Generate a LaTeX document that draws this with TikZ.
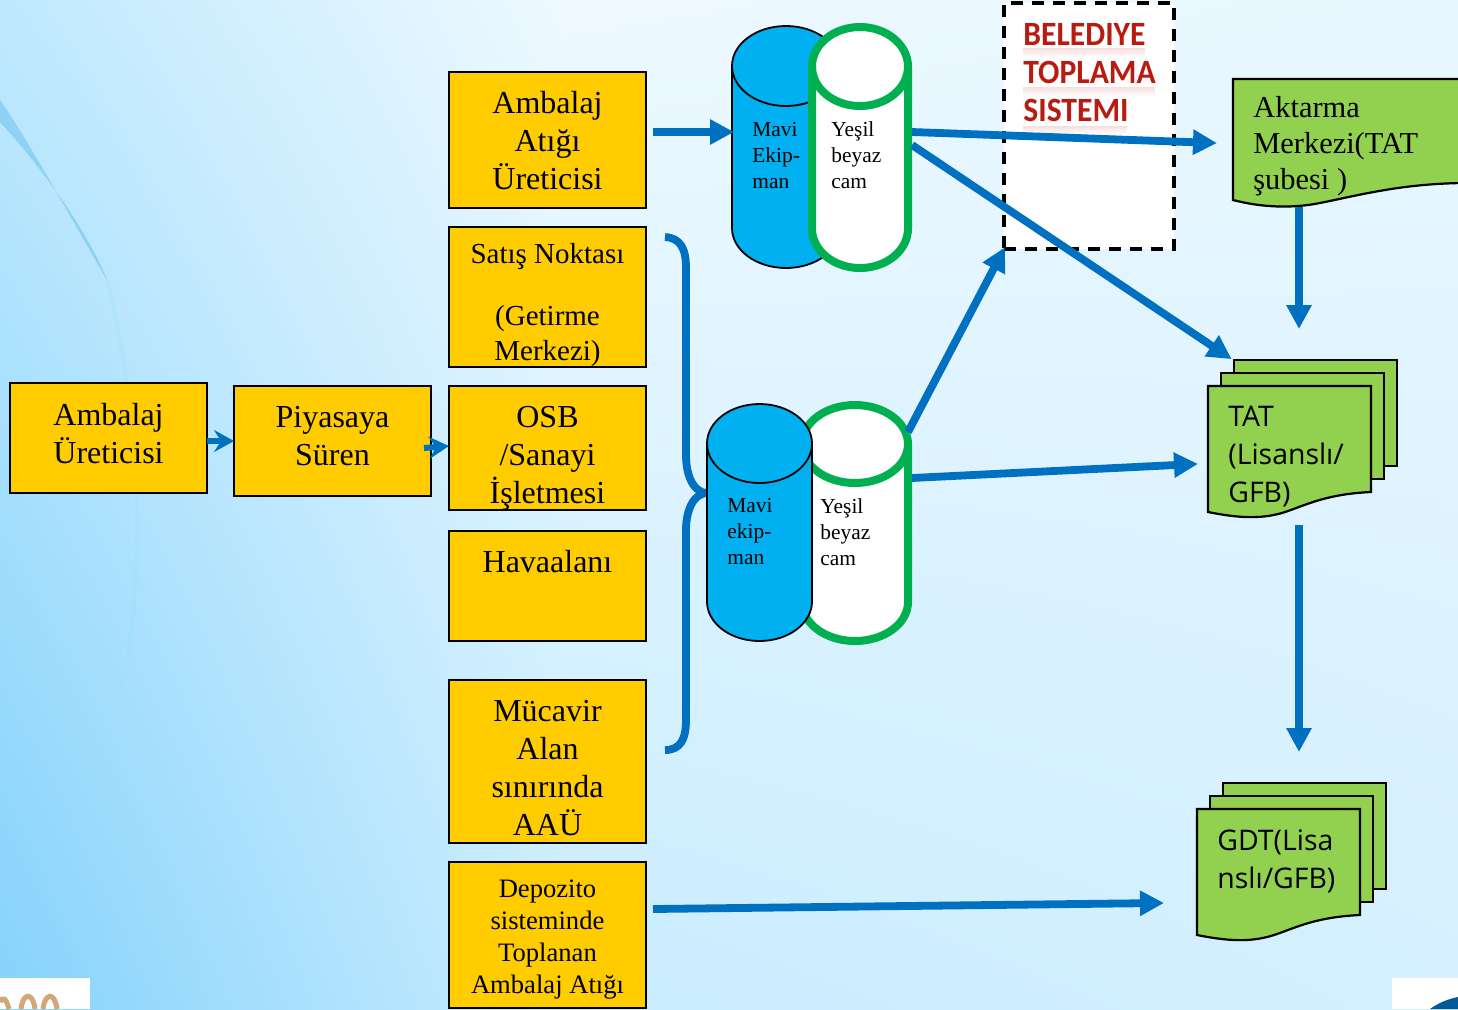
\documentclass[tikz,border=0pt]{standalone}
\usepackage{fontspec}
\setmainfont{Liberation Serif}
\newfontfamily\segoefont{Open Sans}
\newfontfamily\calibfont[FakeStretch=.93]{Carlito}
\usetikzlibrary{arrows.meta,shadings}
\definecolor{box_yellow_col}{HTML}{FFCC00}
\definecolor{doc_green_col}{HTML}{92D050}
\definecolor{ring_green_col}{HTML}{00B050}
\definecolor{tank_blue_col}{HTML}{00B0F0}
\definecolor{arrow_blue_col}{HTML}{0070C0}
\definecolor{title_red_col}{HTML}{B81C10}
\definecolor{sky_a}{HTML}{BFE9FE}
\definecolor{sky_b}{HTML}{EEF9FF}
\definecolor{sky_c}{HTML}{85D2FB}
\definecolor{sky_d}{HTML}{C8ECFF}
\definecolor{sky_e}{HTML}{E8F7FF}
\definecolor{sky_f}{HTML}{D5F0FF}
\begin{document}
\begin{tikzpicture}[
  x=.5pt, y=-.5pt,
  box_yellow/.style={rectangle, draw=black, line width=1.2pt, outer sep=0pt, fill=box_yellow_col, anchor=north west, minimum width=98.5pt, inner sep=0pt, align=center, font=\fontsize{16}{19}\selectfont},
  box_small/.style={box_yellow, font=\fontsize{13.3}{16}\selectfont},
  tank_blue/.style={draw=black, line width=.9pt, fill=tank_blue_col},
  tank_green/.style={draw=ring_green_col, line width=4pt, fill=white},
  tank_text/.style={anchor=west, align=left, inner sep=0pt, font=\fontsize{10.7}{13}\selectfont},
  doc_text/.style={anchor=west, align=left, inner sep=0pt, font=\fontsize{15.2}{18}\selectfont},
  doc_sans/.style={anchor=west, align=left, inner sep=0pt, font=\segoefont\fontsize{14.2}{19}\selectfont},
  title_text/.style={anchor=west, inner sep=0pt, text=title_red_col, font=\calibfont\bfseries\fontsize{17}{19}\selectfont},
  doc_line/.style={draw=black, line width=1.1pt, fill=doc_green_col},
  flow/.style={draw=arrow_blue_col, line width=3.9pt, shorten >=-1pt, -{Triangle[length=12pt,width=12pt]}},
  flow_small/.style={draw=arrow_blue_col, line width=3pt, -{Stealth[length=10pt,width=11pt,inset=3.5pt]}},
  doc_stack/.pic={
    \foreach \d in {26,13} \draw[doc_line] (\d,-\d) rectangle (\d+163,-\d+106);
    \draw[doc_line] (0,0) -- (163,0) -- (163,106) .. controls (120,108) and (100,118) .. (80,125) .. controls (55,134) and (30,132) .. (0,126) -- cycle;
  },
  pics/tank/.style args={#1/#2/#3}{code={
    \path[pic actions] (-#1,#2) arc [start angle=180, end angle=360, x radius=#1, y radius=#2] -- (#1,#3-#2) arc [start angle=0, end angle=180, x radius=#1, y radius=#2] -- cycle;
    \path[pic actions, fill=none] (-#1,#2) arc [start angle=180, end angle=0, x radius=#1, y radius=#2];
    \coordinate (-west) at (-#1,#3/2);
  }},
]
\useasboundingbox (0,0) rectangle (1458,1009);
\clip (0,0) rectangle (1458,1009);
\shade[upper left=sky_a, upper right=sky_b, lower left=sky_c, lower right=sky_d] (0,0) rectangle (560,1009);
\shade[upper left=sky_b, upper right=sky_e, lower left=sky_d, lower right=sky_f] (559,0) rectangle (1458,1009);
\fill[arrow_blue_col!45!tank_blue_col!55!white, opacity=.6] (0,100) .. controls (25,135) and (75,225) .. (108,282) .. controls (85,225) and (35,160) .. (0,122) -- cycle;
\draw[white!60!tank_blue_col, opacity=.25, line width=2pt] (108,282) .. controls (145,440) and (145,600) .. (118,700);

% corner pieces
\fill[white] (0,978) rectangle (90,1009);
\fill[white] (1392,978) rectangle (1458,1009);
\draw[brown!70!white, line width=2.5pt] (0,1002) .. controls (3,996) and (6,998) .. (9,1009) (21,1009) .. controls (23,992) and (33,992) .. (35,1009) (43,1009) .. controls (45,992) and (55,992) .. (57,1009);
\fill[arrow_blue_col!80!black] (1430,1009) .. controls (1438,1003) and (1448,999) .. (1458,997) -- (1458,1009) -- cycle;

% left side
\draw (10,383) node (uretici) [box_yellow, minimum height=55pt] {Ambalaj\\Üreticisi\\[-14pt]~};
\draw (234,386) node (piyasa) [box_yellow, minimum height=55pt] {Piyasaya\\Süren\\[-14pt]~};

% middle column
\draw (449,72) node (atik) [box_yellow, minimum height=68pt] {\rule{0pt}{12pt}Ambalaj\\Atığı\\Üreticisi};
\draw (449,227) node (satis) [box_yellow, minimum height=70pt, font=\fontsize{14.5}{17.5}\selectfont] {\rule{0pt}{18pt}Satış Noktası\\[13.5pt](Getirme\\Merkezi)};
\draw (449,386) node (osb) [box_yellow, minimum height=62pt] {\rule{0pt}{20.5pt}OSB\\/Sanayi\\İşletmesi};
\draw (449,531) node (hava) [box_yellow, minimum height=55pt] {Havaalanı\\[6pt]~};
\draw (449,680) node (mucavir) [box_yellow, minimum height=81.5pt] {\rule{0pt}{17pt}Mücavir\\Alan\\sınırında\\AAÜ};
\draw (449,862) node (depozito) [box_small, minimum height=73pt] {\rule{0pt}{13.5pt}Depozito\\sisteminde\\Toplanan\\Ambalaj Atığı};

\draw (1004,3) node (belediye) [rectangle, draw=black, line width=1.6pt, outer sep=0pt, dash pattern=on 6pt off 4.5pt, fill=white, anchor=north west, minimum width=85pt, minimum height=123pt] {};
\foreach \a/\b/\c in {48/1145/57, 87/1155/96, 126/1127/134}
  \shade[top color=title_red_col!14!white, bottom color=white] (1023,\a) rectangle (\b,\c);
\draw (1023,34) node (t1) [title_text] {BELEDIYE};
\draw (1023,72) node (t2) [title_text] {TOPLAMA};
\draw (1023,110) node (t3) [title_text] {SISTEMI};

% brace
\coordinate (brace_top) at (665,237);
\coordinate (brace_tip) at (707,493);
\coordinate (brace_end) at (665,750);
\draw[arrow_blue_col, line width=3.9pt] (brace_top) .. controls (680,238) and (686,248) .. (686,268) -- (686,455) .. controls (686,478) and (695,493) .. (brace_tip) .. controls (695,493) and (686,508) .. (686,530) -- (686,720) .. controls (686,740) and (680,750) .. (brace_end);

% tanks
\draw (786,26) pic (mavi_a) [tank_blue] {tank=54/40/242};
\draw (860,27) pic (yesil_a) [tank_green] {tank=48/39.5/241};
\draw (855,405) pic (yesil_b) [tank_green] {tank=53/39/236};
\draw (759.5,404) pic (mavi_b) [tank_blue] {tank=52.5/39.5/237};
\draw (752,155.5) node (mavi_a_text) [tank_text] {Mavi\\Ekip-\\man};
\draw (831,155.5) node (yesil_a_text) [tank_text] {Yeşil\\beyaz\\cam};
\draw (727,532) node (mavi_b_text) [tank_text] {Mavi\\ekip-\\man};
\draw (820,532) node (yesil_b_text) [tank_text] {Yeşil\\beyaz\\cam};

% green documents
\draw[doc_line] (1233,79) -- (1462,79) -- (1462,183) .. controls (1400,184) and (1360,195) .. (1320,203) .. controls (1290,209) and (1260,207) .. (1233,200) -- cycle;
\draw (1253,146.5) node (aktarma_text) [doc_text] {Aktarma\\Merkezi(TAT\\şubesi )};
\draw (1208,386) pic {doc_stack};
\coordinate (tat) at (1196,464);
\draw (1228,457) node (tat_text) [doc_sans] {TAT\\(Lisanslı/\\GFB)};
\draw (1197,809) pic {doc_stack};
\coordinate (gdt) at (1162,903);
\draw (1217,861) node (gdt_text) [doc_sans] {GDT(Lisa\\nslı/GFB)};

% connectors
\coordinate (aktarma_out) at (1299,207);
\coordinate (aktarma_in) at (1215,143);
\coordinate (tat_top) at (1299,327);
\coordinate (tat_side) at (1230,358);
\coordinate (tat_out) at (1299,525);
\coordinate (gdt_top) at (1299,750);
\draw[flow_small] (uretici.east |- 0,441) -- (piyasa.west |- 0,441);
\draw[flow_small] (424,448) -- (osb.west |- 0,446);
\draw[flow] (653,132) -- (mavi_a-west |- 0,132);
\draw[flow] (912,132) -- (aktarma_in);
\draw[flow] (912,145) -- (tat_side);
\draw[flow] (908,432) -- (belediye.south west);
\draw[flow] (912,478) -- (tat);
\draw[flow] (653,909) -- (gdt);
\draw[flow] (aktarma_out) -- (tat_top);
\draw[flow] (tat_out) -- (gdt_top);
\end{tikzpicture}
\end{document}
